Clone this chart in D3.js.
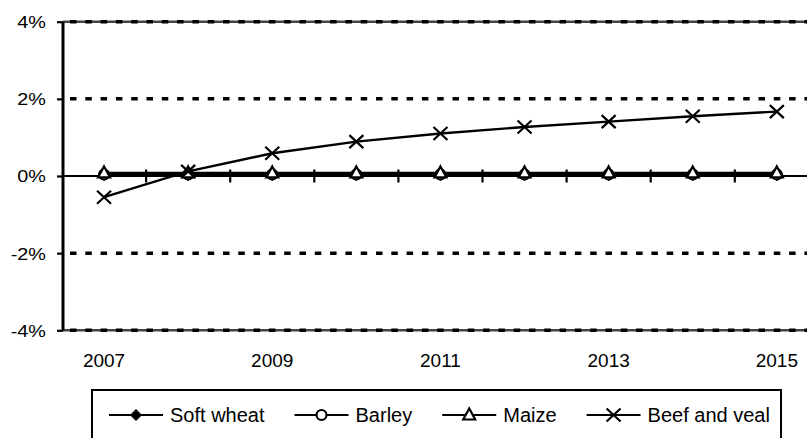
<!DOCTYPE html>
<html>
<head>
<meta charset="utf-8">
<script src="https://cdn.jsdelivr.net/npm/d3@7/dist/d3.min.js"></script>
<style>
  body { margin: 0; background: #fff; }
  text { font-family: Arial, "Liberation Sans", sans-serif; fill: #000; }
</style>
</head>
<body>
<div class="chart"></div>
<script>
// data (% change)
const years = ["2007","2008","2009","2010","2011","2012","2013","2014","2015"];
const softWheat = [0.02, 0.02, 0.02, 0.02, 0.02, 0.02, 0.02, 0.02, 0.02];
const barley    = [0.04, 0.04, 0.04, 0.04, 0.04, 0.04, 0.04, 0.04, 0.04];
const maize     = [0.08, 0.08, 0.08, 0.08, 0.08, 0.08, 0.08, 0.08, 0.08];
const beefVeal  = [-0.55, 0.12, 0.59, 0.89, 1.10, 1.27, 1.41, 1.55, 1.67];
const yTicks = [-4, -2, 0, 2, 4];
const xLabels = ["2007", "2009", "2011", "2013", "2015"];
const seriesNames = ["Soft wheat", "Barley", "Maize", "Beef and veal"];
const seriesMarks = ["diamond", "circle", "triangle", "cross"];

let width = 807,
    height = 438;

let series = [softWheat, barley, maize, beefVeal].map((vals, i) => ({
  name: seriesNames[i],
  mark: seriesMarks[i],
  values: vals.map((v, j) => ({year: years[j], value: v}))
}));

let svg = d3.select('.chart').append('svg')
    .attr('width', width)
    .attr('height', height);

const x = d3.scaleBand().domain(years).range([62, 62 + 9 * 84.1]);
const cx = d => x(d) + x.bandwidth() / 2;
const y = d3.scaleLinear().domain([-4, 4]).range([330.3, 21.7]);

// marker shapes
const markPath = {
  diamond: "M0,-5.5L5.5,0L0,5.5L-5.5,0Z",
  circle: d3.symbol().type(d3.symbolCircle).size(Math.PI * 25)(),
  triangle: "M0,-6.5L6,4.5L-6,4.5Z",
  cross: "M-7,-6.5L7,6.5M-7,6.5L7,-6.5"
};
function styleMark(sel, mark) {
  sel.attr('d', markPath[mark])
    .attr('stroke', '#000')
    .attr('stroke-width', mark === 'diamond' ? 1 : 2.2)
    .attr('fill', mark === 'diamond' ? '#000' : (mark === 'cross' ? 'none' : '#fff'));
}

// gridlines
let grid = svg.append('g');
grid.selectAll('line.solid')
  .data(yTicks.filter(d => Math.abs(d) === 4))
  .join('line')
  .attr('class', 'solid')
  .attr('x1', 63).attr('x2', width)
  .attr('y1', d => y(d)).attr('y2', d => y(d))
  .attr('stroke', '#444').attr('stroke-width', 2.5);
grid.selectAll('line.dash')
  .data(yTicks.filter(d => d !== 0))
  .join('line')
  .attr('class', 'dash')
  .attr('x1', 63).attr('x2', width)
  .attr('y1', d => y(d)).attr('y2', d => y(d))
  .attr('stroke', '#000').attr('stroke-width', 3.5)
  .attr('stroke-dasharray', '6.5,8.8')
  .attr('stroke-dashoffset', 8.3);

// zero axis with crossing ticks between categories
svg.append('line')
  .attr('x1', 63).attr('x2', width)
  .attr('y1', y(0)).attr('y2', y(0))
  .attr('stroke', '#000').attr('stroke-width', 2);
svg.append('g').selectAll('line')
  .data(years.slice(1))
  .join('line')
  .attr('x1', d => x(d)).attr('x2', d => x(d))
  .attr('y1', y(0) - 6.5).attr('y2', y(0) + 6.5)
  .attr('stroke', '#000').attr('stroke-width', 2.2);

// x labels
svg.append('g').selectAll('text')
  .data(xLabels)
  .join('text')
  .attr('x', d => cx(d))
  .attr('y', 366.7)
  .attr('text-anchor', 'middle')
  .style('font-size', '19px')
  .text(d => d);

// series
let line = d3.line().x(d => cx(d.year)).y(d => y(d.value));
series.forEach(s => {
  let g = svg.append('g');
  g.append('path')
    .datum(s.values)
    .attr('d', line)
    .attr('fill', 'none')
    .attr('stroke', '#000')
    .attr('stroke-width', 2.4);
  g.selectAll('path.mk')
    .data(s.values)
    .join('path')
    .attr('class', 'mk')
    .attr('transform', d => `translate(${cx(d.year)},${y(d.value)})`)
    .call(styleMark, s.mark);
});

// left axis
let yAxis = svg.append('g')
  .attr('transform', 'translate(63,0)')
  .call(d3.axisLeft(y).tickValues(yTicks).tickSize(6).tickFormat(d => d + '%'));
yAxis.select('.domain').attr('stroke', '#000').attr('stroke-width', 3)
  .attr('d', `M0,${y(4)}V${y(-4)}`);
yAxis.selectAll('.tick line').attr('stroke', '#000').attr('stroke-width', 2.2);
yAxis.selectAll('.tick text')
  .attr('x', -14.2)
  .attr('dy', '0.36em')
  .attr('transform', 'scale(1.2,1)')
  .style('font-size', '16.5px')
  .style('font-family', 'Arial, "Liberation Sans", sans-serif')
  .attr('fill', '#000');

// legend
let legend = svg.append('g');
legend.append('rect')
  .attr('x', 92).attr('y', 390)
  .attr('width', 689).attr('height', 80)
  .attr('fill', 'none').attr('stroke', '#000').attr('stroke-width', 2);
let lx = 109;
series.forEach(s => {
  let item = legend.append('g').attr('transform', `translate(${lx},415)`);
  item.append('line').attr('x1', 0).attr('x2', 54)
    .attr('stroke', '#000').attr('stroke-width', 2);
  item.append('path').attr('transform', 'translate(27,0)').call(styleMark, s.mark);
  let t = item.append('text').attr('x', 61).attr('y', 6.7)
    .style('font-size', '20px').text(s.name);
  lx += 61 + t.node().getComputedTextLength() + 30;
});
</script>
</body>
</html>
